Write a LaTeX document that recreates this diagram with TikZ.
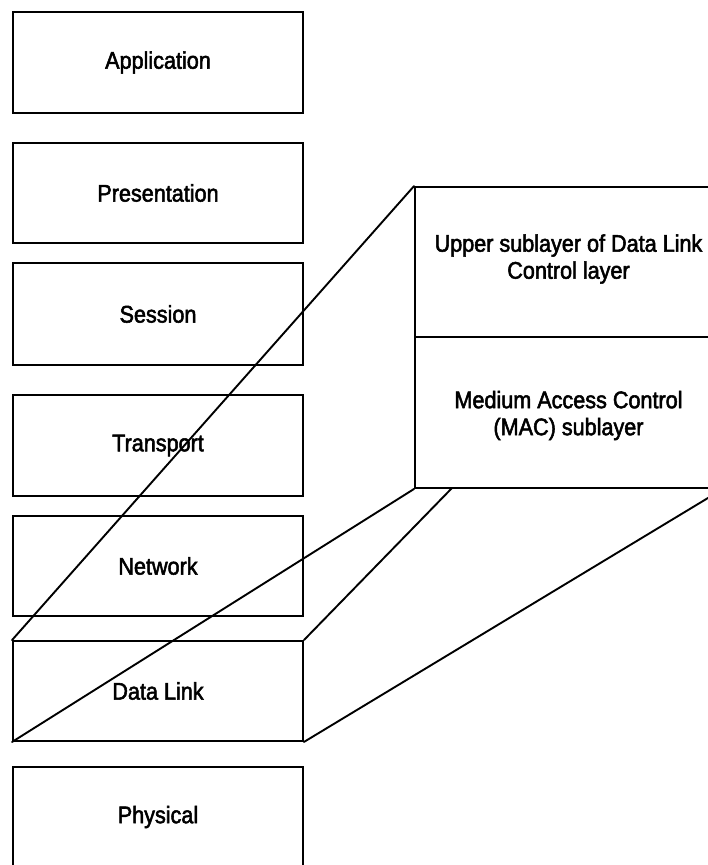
\documentclass[tikz,border=0pt]{standalone}
\usepackage{fontspec}
\setmainfont{Liberation Sans}[FakeStretch=0.9, FakeBold=2.2]
\begin{document}
\begin{tikzpicture}[x=1pt,y=-1pt,
  every node/.style={font=\fontsize{24}{27}\selectfont, text=black},
  layer/.style={draw, line width=1.9pt, minimum width=290pt, inner sep=0pt},
  sublayer/.style={draw, line width=1.9pt, minimum width=307pt, inner sep=0pt, align=center},
  link/.style={line width=1.9pt, line cap=round}]
\useasboundingbox (0,0) rectangle (708,865);
\clip (0,0) rectangle (708,865);

% OSI stack
\node[layer, minimum height=101pt] (app)  at (158,62.5)  {Application};
\node[layer, minimum height=100pt] (pres) at (158,193)   {Presentation};
\node[layer, minimum height=102pt] (ses)  at (158,314)   {Session};
\node[layer, minimum height=101pt] (tra)  at (158,445.5) {Transport};
\node[layer, minimum height=100pt] (net)  at (158,566)   {Network};
\node[layer, minimum height=100pt] (dl)   at (158,691)   {Data Link};
\node[layer, minimum height=100pt] (phy)  at (158,817)   {Physical};

% Expanded data link layer
\node[sublayer, minimum height=150pt] (llc) at (568.5,262) {};
\node[sublayer, minimum height=151pt] (mac) at (568.5,412.5) {};
\node[align=center] at ([yshift=3pt]llc.center) {Upper sublayer of Data Link\\Control layer};
\node[align=center] at ([yshift=-3pt]mac.center) {Medium Access Control\\(MAC) sublayer};

% Projection edges
\coordinate (macfront) at (452,488);
\draw[link] (llc.north west) -- (dl.north west);
\draw[link] (mac.south west) -- (dl.south west);
\draw[link] (macfront) -- (dl.north east);
\draw[link] (mac.south east) -- (dl.south east);
\end{tikzpicture}
\end{document}
